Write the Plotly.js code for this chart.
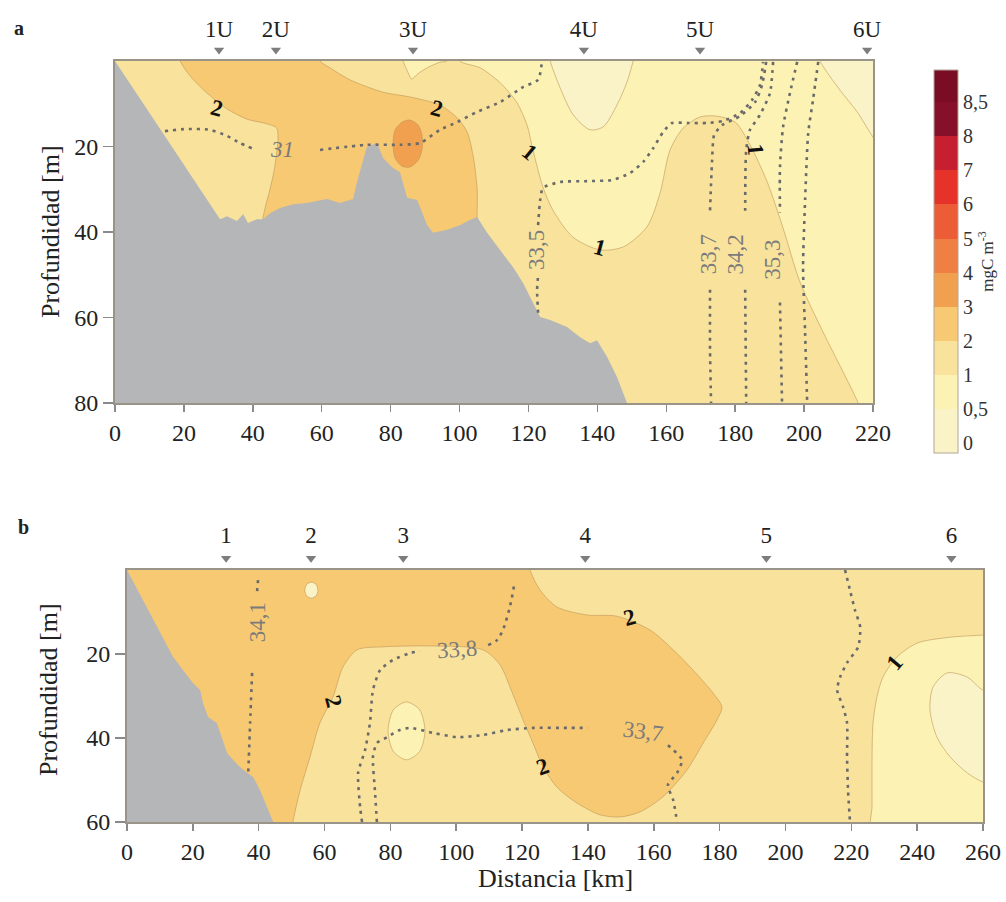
<!DOCTYPE html>
<html>
<head>
<meta charset="utf-8">
<script src="https://cdn.plot.ly/plotly-3.0.1.min.js"></script>
<style>html,body{margin:0;padding:0;background:#fff;}#chart{width:1006px;height:902px;}</style>
</head>
<body>
<div id="chart"></div>
<script>
// ---------- colour levels (chlorophyll, mgC m-3) ----------
const LEVELS = [0, 0.5, 1, 2, 3, 4, 5, 6, 7, 8, 8.5];
const LEVEL_LABELS = ['0', '0,5', '1', '2', '3', '4', '5', '6', '7', '8', '8,5'];
const BAND_COLORS = ['#faf3c8', '#fcf2b3', '#f9e39c', '#f7c972', '#f1a04f', '#ef7f43', '#ec5c36', '#e6332a', '#c61f30', '#861029', '#7a0d24'];

// ---------- stations ----------
const STATIONS_A = ['1U', '2U', '3U', '4U', '5U', '6U'];
const STATIONS_A_KM = [30.2, 46.7, 86.5, 136.1, 169.8, 218.3];
const STATIONS_B = ['1', '2', '3', '4', '5', '6'];
const STATIONS_B_KM = [30.1, 55.9, 83.9, 139.2, 194.2, 250.4];

// ---------- section extents ----------
const A_RANGE_KM = [0, 220], A_RANGE_M = [80, 0];
const B_RANGE_KM = [0, 260], B_RANGE_M = [60, 0];

// ---------- panel a : regions [km, depth m] ----------
const A_BACK_1_2 = [[-5,-5],[225,-5],[225,85],[-5,85]];
const A_PALE_05_1 = [[99.5,-3],[100.1,0],[106.0,1.6],[111.8,5.1],[116.7,9.8],[119.6,15.0],[121.3,20.8],[124.2,29.5],[127.1,34.9],[132.9,41.2],[140.8,44.2],[147.5,43.5],[154.4,38.8],[158.2,30.9],[161.1,20.8],[164.9,15.7],[169.8,13.1],[174.7,12.9],[180.0,14.3],[184.3,19.6],[189.3,28.3],[193.9,39.1],[198.8,51.7],[205.5,63.4],[211.3,72.7],[215.7,80],[217.5,84],[226,84],[226,-4],[99,-4]];
const A_V_3U = [[82.8,-2],[83.6,0],[85.0,2.6],[86.1,4.2],[87.9,3.0],[90.6,1.6],[94.3,0.3],[96.4,0],[97.5,-2]];
const A_V_4U = [[125.8,-2],[126.3,0],[129.2,6.3],[133.0,12.6],[137.9,16.1],[141.7,15.4],[145.7,10.3],[148.6,4.9],[150.4,0],[151,-2]];
const A_CORNER = [[203.5,-3],[204.6,0],[210.4,6.8],[215.4,11.9],[220,17.8],[224,22],[226,-4]];
const A_ORANGE_2_3 = [[18.0,-3],[18.9,0],[21.8,3.5],[26.7,7.5],[32.5,11.2],[38.3,13.6],[44.1,14.7],[47.0,15.8],[46.4,24.6],[45.0,29.9],[43.5,34.6],[42.7,38],[43,45],[70,45],[105.5,45],[105.1,37.7],[105.1,29.7],[103.9,22.0],[102.2,16.6],[99.3,13.3],[94.3,10.3],[85.6,8.4],[77.8,7.3],[68.2,4.4],[62.4,1.6],[59.5,0],[58.5,-3]];
const A_BLOB_3_4 = [[85.6,13.8],[88.0,15.0],[89.1,17.3],[89.1,20.8],[88.0,23.2],[85.6,24.8],[83.3,24.6],[81.3,22.7],[80.7,19.6],[81.3,16.1],[83.3,14.3],[85.6,13.8]];
const A_BATHY = [[0,0],[30.5,37.0],[32.5,36.3],[35.4,37.4],[37.2,35.8],[38.6,37.9],[41.2,37.0],[43.0,37.0],[45.0,35.6],[47.9,34.4],[51.7,33.5],[55.7,33.2],[61.5,32.3],[65.3,33.2],[69.1,32.3],[70.2,28.5],[72.0,23.2],[73.1,20.1],[76.1,19.2],[77.8,22.7],[80.7,25.0],[82.7,26.0],[84.8,32.0],[87.7,32.5],[90.6,38.4],[92.3,40.2],[96.4,39.5],[100.1,38.4],[103.0,37.2],[105.1,36.5],[108.0,40.2],[111.8,44.2],[115.5,48.2],[118.4,51.9],[120.5,55.2],[123.4,59.9],[126.3,60.6],[131.2,62.2],[135.0,64.6],[137.9,66.0],[139.9,65.3],[142.8,69.2],[145.7,73.9],[148.6,80],[0,80]];

// ---------- panel a : salinity isolines ----------
const A_SAL_31 = [[14.5,16.4],[20.9,15.9],[27.6,16.1],[32.5,17.5],[36.3,19.2],[39.7,20.4],null,[59.5,20.8],[73.1,19.6],[82.7,19.6],[88.5,19.2],[94.3,16.1],[99.3,14.3],[105.1,11.9],[111.8,9.6],[118.4,6.1],[122.8,4.4],[123.9,0.2]];
const A_SAL_335 = [[122.8,58.9],[122.5,53.6],[122.8,50.1],null,[122.8,38.4],[123.4,32.5],[124.2,29.7],[129.2,28.3],[137.0,28.1],[144.6,27.8],[149.5,26.2],[153.3,23.6],[156.2,20.4],[159.1,16.6],[161.7,14.5],[166.0,14.5],[171.8,14.5],[176.5,14.0],[181.4,12.2],[184.9,9.1],[187.2,5.6],[188.1,0.2]];
const A_SAL_337 = [[189.0,0.2],[187.8,5.6],[185.8,9.6],[181.4,12.9],[176.2,15.0],[173.9,17.3],[173.3,23.2],[172.7,35.0],null,[172.7,53.5],[172.7,67.6],[173.0,80]];
const A_SAL_342 = [[191.0,0.2],[190.1,7.5],[187.2,12.6],[184.3,16.1],[183.2,20.8],[182.9,35.0],null,[182.9,53.5],[183.2,80]];
const A_SAL_353 = [[198.0,0.2],[195.9,7.5],[193.9,15.4],[193.0,24.8],[193.0,35.5],null,[193.0,56.5],[193.6,80]];
const A_SAL_OUTER = [[204.1,0.2],[202.6,9.1],[201.2,16.8],[200.3,32.5],[199.7,48.2],[200.3,63.6],[200.9,80]];

// ---------- panel b : regions ----------
const B_BACK_1_2 = [[-5,-5],[265,-5],[265,65],[-5,65]];
const B_ORANGE_2_3 = [[-4,-4],[121.5,-4],[122.4,0],[125.5,4.8],[130.6,8.8],[139.7,10.7],[148.8,11.0],[158.9,14.3],[165.9,19.0],[171.9,23.8],[178.0,29.3],[180.7,32.6],[179.2,35.7],[175.0,41.2],[170.1,47.6],[162.8,54.0],[155.8,57.6],[149.8,58.8],[143.7,58.3],[136.7,55.5],[130.6,51.7],[126.4,46.9],[123.3,41.2],[120.3,35.7],[117.3,29.8],[113.3,22.6],[108.1,19.0],[93.0,18.1],[77.8,18.3],[69.9,19.0],[65.6,23.1],[62.6,30.2],[58.6,36.4],[55.6,44.5],[52.6,52.4],[50.4,60],[49.8,64],[-4,64]];
const B_DOT_ST2 = [[56,2.9],[57.4,3.4],[58,4.8],[57.4,6.2],[56,6.7],[54.6,6.2],[54,4.8],[54.6,3.4],[56,2.9]];
const B_OVAL_ST3 = [[84.9,31.4],[88.9,33.3],[90.5,38.3],[88.9,43.2],[84.9,45.2],[80.9,43.2],[79.3,38.3],[80.9,33.3],[84.9,31.4]];
const B_PALE_05_1 = [[264,15.3],[260,15.5],[250,16.0],[240,17.4],[233.9,20.7],[229.6,25.5],[227.8,30.2],[226.6,36.4],[226.3,44.5],[226.3,56],[226.4,64],[264,64]];
const B_PALEST = [[264,29],[260,28.6],[255.2,25.5],[249.1,24.5],[244.8,27.9],[243.9,33.3],[246.0,39.8],[250,44.5],[255.2,48.3],[260,50.5],[264,51]];
const B_BATHY = [[0,0],[7.0,10.2],[14.0,20.7],[20.0,26.9],[22.2,28.6],[23.1,31.7],[24.6,35.0],[27.3,36.4],[28.3,38.8],[30.4,43.6],[32.2,45.2],[34.3,46.9],[36.5,48.3],[38.3,49.3],[40.4,52.4],[42.5,56.4],[44.4,60],[0,60]];

// ---------- panel b : salinity isolines ----------
const B_SAL_341 = [[39.8,2.4],[39.5,5.2],null,[38.0,24.5],[37.4,36.4],[36.8,48.8]];
const B_SAL_338 = [[71.4,60],[70.8,56.4],[70.2,48.3],[72.3,42.9],[73.8,36.4],[74.7,28.6],[76.9,23.8],[80.8,21.4],[86.0,19.8],[89.0,19.3],null,[109.7,17.9],[112.4,16.7],[114.2,14.3],[116.3,8.8],[117.6,3.6]];
const B_SAL_337 = [[75.9,60],[75.3,52.4],[74.7,44.5],[75.9,41.2],[79.0,39.8],[82.9,38.1],[86.0,37.6],[93.0,38.8],[100.2,39.8],[108.1,39.3],[115.4,38.1],[123.3,37.6],[133.7,37.6],[140.0,37.6],null,[164.3,41.7],[168.6,45.2],[167.1,48.3],[164.3,51.2],[165.9,54.8],[167.1,60]];
const B_SAL_RIGHT = [[218.1,0],[219.6,4.8],[221.1,9.5],[222.7,13.6],[222.1,18.3],[218.7,22.1],[216.6,25.5],[215.7,28.6],[217.5,32.6],[218.7,36.4],[218.7,44.5],[219.0,52.4],[219.6,60]];

// ---------- labels: [text, km, depth, angle] ----------
const A_CHL_LABELS = [['2',29.7,11.0,15],['2',93.5,11.0,15],['1',120.5,21.3,40],['1',140.8,43.7,15],['1',185.8,20.8,85]];
const A_SAL_LABELS = [['31',48.5,20.6,0],['33,5',122.5,44.2,-90],['33,7',172.1,45.2,-90],['34,2',180.0,45.2,-90],['35,3',191.0,46.5,-90]];
const B_CHL_LABELS = [['2',152.8,11.4,-15],['2',126.4,46.9,-20],['2',62.6,31.4,75],['1',233.3,22.1,-50]];
const B_SAL_LABELS = [['34,1',39.5,12.4,-90],['33,8',100.2,19.0,-4],['33,7',156.7,38.4,8]];

// ---------- helpers ----------
const SERIF = 'Liberation Serif, Times New Roman, serif';
const EDGE = 'rgba(190,150,90,0.6)';
function region(pts, xa, ya, color, smooth, edge) {
  return {type:'scatter', mode:'lines', xaxis:xa, yaxis:ya,
    x: pts.map(p => p[0]), y: pts.map(p => p[1]),
    fill:'toself', fillcolor: color,
    line:{color: edge || EDGE, width: edge === 'none' ? 0 : 1, shape: smooth ? 'spline' : 'linear', smoothing: 0.8},
    hoverinfo:'skip', showlegend:false};
}
function isoline(pts, xa, ya) {
  return {type:'scatter', mode:'lines', xaxis:xa, yaxis:ya,
    x: pts.map(p => p ? p[0] : null), y: pts.map(p => p ? p[1] : null),
    line:{color:'#6a6a6a', width:2.6, dash:'3px,5px', shape:'spline', smoothing:0.6},
    hoverinfo:'skip', showlegend:false};
}
function labelAnn(l, xr, yr, kind) {
  const chl = kind === 'chl';
  return {x:l[1], y:l[2], xref:xr, yref:yr, text:l[0], textangle:l[3], showarrow:false,
    xanchor:'center', yanchor:'middle',
    font:{family:SERIF, size:23, color: chl ? '#111' : '#7b7b7b', weight: chl ? 'bold' : 'normal', style: (!chl && l[0]==='31') ? 'italic' : 'normal'}};
}

const GREY = '#b4b6b8';
const traces = [];
// panel a
traces.push(region(A_BACK_1_2, 'x', 'y', BAND_COLORS[2], false, 'none'));
traces.push(region(A_PALE_05_1, 'x', 'y', BAND_COLORS[1], true));
traces.push(region(A_V_3U, 'x', 'y', BAND_COLORS[1], true));
traces.push(region(A_V_4U, 'x', 'y', BAND_COLORS[0], true));
traces.push(region(A_CORNER, 'x', 'y', BAND_COLORS[0], true));
traces.push(region(A_ORANGE_2_3, 'x', 'y', BAND_COLORS[3], true));
traces.push(region(A_BLOB_3_4, 'x', 'y', BAND_COLORS[4], true));
traces.push(region(A_BATHY, 'x', 'y', GREY, false, 'none'));
[A_SAL_31, A_SAL_335, A_SAL_337, A_SAL_342, A_SAL_353, A_SAL_OUTER].forEach(s => traces.push(isoline(s, 'x', 'y')));
// panel b
traces.push(region(B_BACK_1_2, 'x2', 'y2', BAND_COLORS[2], false, 'none'));
traces.push(region(B_ORANGE_2_3, 'x2', 'y2', BAND_COLORS[3], true));
traces.push(region(B_DOT_ST2, 'x2', 'y2', BAND_COLORS[0], true));
traces.push(region(B_OVAL_ST3, 'x2', 'y2', BAND_COLORS[1], true));
traces.push(region(B_PALE_05_1, 'x2', 'y2', BAND_COLORS[1], true));
traces.push(region(B_PALEST, 'x2', 'y2', BAND_COLORS[0], true));
traces.push(region(B_BATHY, 'x2', 'y2', GREY, false, 'none'));
[B_SAL_341, B_SAL_338, B_SAL_337, B_SAL_RIGHT].forEach(s => traces.push(isoline(s, 'x2', 'y2')));

// station markers in thin strips above each section (same km scale)
function stations(kms, names, xa, ya, yMark, yText) {
  traces.push({type:'scatter', mode:'markers', xaxis:xa, yaxis:ya, x:kms, y:kms.map(() => yMark),
    marker:{symbol:'triangle-down', size:9, color:'#7d7d7d'}, cliponaxis:false, hoverinfo:'skip', showlegend:false});
  traces.push({type:'scatter', mode:'text', xaxis:xa, yaxis:ya, x:kms, y:kms.map(() => yText), text:names,
    textposition:'middle center', textfont:{family:SERIF, size:23, color:'#222'}, cliponaxis:false, hoverinfo:'skip', showlegend:false});
}
stations(STATIONS_A_KM, STATIONS_A, 'x3', 'y3', 0.22, 0.64);
stations(STATIONS_B_KM, STATIONS_B, 'x4', 'y4', 0.22, 0.64);

// colour bar (index space: band k between k and k+1)
const CB_MIN = -0.3, CB_MAX = 10.95;
const cscale = [];
BAND_COLORS.forEach((c, k) => {
  const lo = Math.max(k, CB_MIN), hi = Math.min(k + 1, CB_MAX);
  cscale.push([(lo - CB_MIN) / (CB_MAX - CB_MIN), c]);
  cscale.push([(hi - CB_MIN) / (CB_MAX - CB_MIN), c]);
});
cscale[0][0] = 0; cscale[cscale.length - 1][0] = 1;
traces.push({type:'scatter', mode:'markers', xaxis:'x', yaxis:'y', x:[-50], y:[-50],
  marker:{color:[0], cmin:CB_MIN, cmax:CB_MAX, colorscale:cscale, showscale:true, opacity:0,
    colorbar:{x:934/1006, xanchor:'left', xpad:0, ypad:0, y:1 - 261.5/902, yanchor:'middle', len:383/902, lenmode:'fraction',
      thickness:24, outlinewidth:1, outlinecolor:'#b0a898',
      tickvals: LEVELS.map((v, i) => i), ticktext: LEVEL_LABELS, ticks:'', ticklabelposition:'outside',
      tickfont:{family:SERIF, size:20, color:'#333'},
      title:{text:'mgC m<sup>-3</sup>', side:'right', font:{family:SERIF, size:17, color:'#333'}}}},
  hoverinfo:'skip', showlegend:false});

const axisCommon = {showline:true, mirror:true, linecolor:'#9a9488', linewidth:2, ticks:'outside', tickcolor:'#8a8a8a', tickwidth:1.5,
  showgrid:false, zeroline:false, automargin:false, fixedrange:true, tickfont:{family:SERIF, size:24, color:'#222'}};
const hiddenAxis = {visible:false, fixedrange:true, automargin:false, showgrid:false, zeroline:false};

const annotations = [];
A_CHL_LABELS.forEach(l => annotations.push(labelAnn(l, 'x', 'y', 'chl')));
A_SAL_LABELS.forEach(l => annotations.push(labelAnn(l, 'x', 'y', 'sal')));
B_CHL_LABELS.forEach(l => annotations.push(labelAnn(l, 'x2', 'y2', 'chl')));
B_SAL_LABELS.forEach(l => annotations.push(labelAnn(l, 'x2', 'y2', 'sal')));
function paperText(text, px, py, size, angle, bold) {
  annotations.push({xref:'paper', yref:'paper', x:px/1006, y:1 - py/902, xanchor:'center', yanchor:'middle',
    text:text, textangle:angle, showarrow:false, font:{family:SERIF, size:size, color:'#222', weight: bold ? 'bold' : 'normal'}});
}
paperText('Profundidad [m]', 50, 232, 26, -90, false);
paperText('Profundidad [m]', 48, 690, 26, -90, false);
paperText('Distancia [km]', 555, 878, 26, 0, false);
paperText('a', 19, 28, 20, 0, true);
paperText('b', 23, 527, 20, 0, true);

const layout = {
  width:1006, height:902, margin:{l:0, r:0, t:0, b:0, autoexpand:false},
  paper_bgcolor:'#ffffff', plot_bgcolor:'rgba(0,0,0,0)', showlegend:false,
  xaxis: Object.assign({}, axisCommon, {domain:[115/1006, 873/1006], anchor:'y', range:A_RANGE_KM, tickvals:[0,20,40,60,80,100,120,140,160,180,200,220], ticklen:7}),
  yaxis: Object.assign({}, axisCommon, {domain:[1 - 403/902, 1 - 61/902], anchor:'x', range:A_RANGE_M, tickvals:[20,40,60,80], ticklen:10}),
  xaxis2: Object.assign({}, axisCommon, {domain:[127/1006, 983/1006], anchor:'y2', range:B_RANGE_KM, tickvals:[0,20,40,60,80,100,120,140,160,180,200,220,240,260], ticklen:7}),
  yaxis2: Object.assign({}, axisCommon, {domain:[1 - 822/902, 1 - 570/902], anchor:'x2', range:B_RANGE_M, tickvals:[20,40,60], ticklen:10}),
  xaxis3: Object.assign({}, hiddenAxis, {domain:[115/1006, 873/1006], anchor:'y3', range:A_RANGE_KM}),
  yaxis3: Object.assign({}, hiddenAxis, {domain:[1 - 60/902, 1 - 15/902], anchor:'x3', range:[0,1]}),
  xaxis4: Object.assign({}, hiddenAxis, {domain:[127/1006, 983/1006], anchor:'y4', range:B_RANGE_KM}),
  yaxis4: Object.assign({}, hiddenAxis, {domain:[1 - 569/902, 1 - 520/902], anchor:'x4', range:[0,1]}),
  annotations: annotations
};

Plotly.newPlot('chart', traces, layout, {displayModeBar:false, staticPlot:true});
</script>
</body>
</html>
